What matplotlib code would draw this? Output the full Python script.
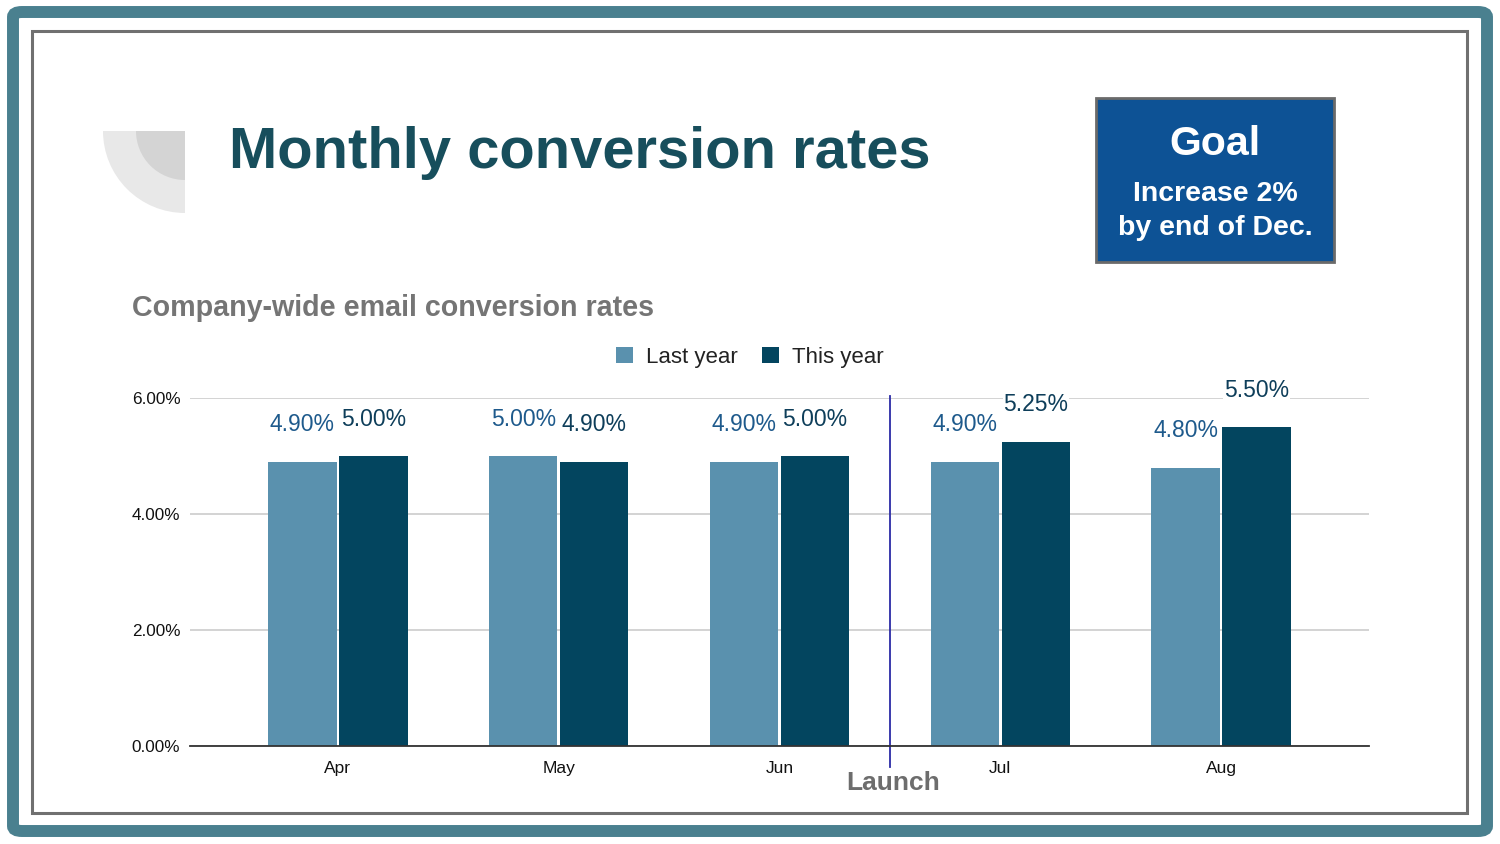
import matplotlib
matplotlib.use("Agg")
import matplotlib.pyplot as plt
import numpy as np
from matplotlib.patches import FancyBboxPatch, Rectangle, Wedge

plt.rcParams['font.family'] = ['Liberation Sans', 'DejaVu Sans']

months = ["Apr", "May", "Jun", "Jul", "Aug"]
last_year = [4.90, 5.00, 4.90, 4.90, 4.80]
this_year = [5.00, 4.90, 5.00, 5.25, 5.50]
y_ticks = [0, 2, 4, 6]
series_names = ["Last year", "This year"]
launch_pos = 2.5

W, H = 1500, 844
fig = plt.figure(figsize=(W / 100, H / 100), dpi=100)
fig.patch.set_facecolor("white")

def fx(px):
    return px / W

def fy(py):
    return 1 - py / H

# Outer teal frame
outer = FancyBboxPatch((fx(13), fy(831)), fx(1487) - fx(13), fy(12) - fy(831),
                       boxstyle="round,pad=0,rounding_size=0.006",
                       transform=fig.transFigure, facecolor="none",
                       edgecolor="#4a808f", linewidth=8.6)
fig.patches.append(outer)
inner = Rectangle((fx(31.5), fy(813)), fx(1467) - fx(31.5), fy(30.5) - fy(813),
                  transform=fig.transFigure, facecolor="none",
                  edgecolor="#707070", linewidth=2.2)
fig.patches.append(inner)

# Decoration (quarter circles)
deco = fig.add_axes([0, 0, 1, 1], zorder=0)
deco.set_xlim(0, W)
deco.set_ylim(H, 0)
deco.axis("off")
deco.add_patch(Wedge((185, 131), 82, 90, 180, facecolor="#e8e8e8", edgecolor="none"))
deco.add_patch(Wedge((185, 131), 49, 90, 180, facecolor="#d4d4d4", edgecolor="none"))
deco.set_aspect("auto")

# Title & subtitle
fig.text(fx(229), fy(168), "Monthly conversion rates", fontsize=41.7, fontweight="bold",
         color="#174e5c", ha="left", va="baseline")
fig.text(fx(132), fy(308), "Company-wide email conversion rates", fontsize=20.6,
         fontweight="bold", color="#757575", ha="left", va="center")

# Goal box
goal = Rectangle((fx(1096), fy(262)), fx(1334) - fx(1096), fy(98) - fy(262),
                 transform=fig.transFigure, facecolor="#0d5295",
                 edgecolor="#6a6a6a", linewidth=2)
fig.patches.append(goal)
fig.text(fx(1215), fy(144), "Goal", fontsize=29.5, fontweight="bold", color="white",
         ha="center", va="center")
fig.text(fx(1215), fy(194), "Increase 2%", fontsize=20.5, fontweight="bold", color="white",
         ha="center", va="center")
fig.text(fx(1215), fy(228), "by end of Dec.", fontsize=20.5, fontweight="bold", color="white",
         ha="center", va="center")

# Chart
ax = fig.add_axes([fx(190), fy(746), fx(1369) - fx(190), fy(398) - fy(746)], zorder=2)
ax.set_facecolor("none")
x = np.arange(len(months))
w = 0.31
off = 0.161
c_last, c_this = "#5a91ae", "#03455f"
b1 = ax.bar(x - off, last_year, w, color=c_last, label=series_names[0], zorder=2)
b2 = ax.bar(x + off, this_year, w, color=c_this, label=series_names[1], zorder=2)

for xi, v in zip(x, last_year):
    ax.annotate(f"{v:.2f}%", (xi - off, v), xytext=(0, 26.5), textcoords="offset points",
                ha="center", va="center", fontsize=16.5, color="#1e5a8c", zorder=4,
                annotation_clip=False,
                bbox=dict(facecolor="white", edgecolor="none", pad=0.5))
for xi, v in zip(x, this_year):
    ax.annotate(f"{v:.2f}%", (xi + off, v), xytext=(0, 26.5), textcoords="offset points",
                ha="center", va="center", fontsize=16.5, color="#0e3e5a", zorder=4,
                annotation_clip=False,
                bbox=dict(facecolor="white", edgecolor="none", pad=0.5))

ax.set_xlim(-0.67, len(months) - 1 + 0.67)
ax.set_ylim(0, 6)
ax.set_yticks(y_ticks)
ax.set_yticklabels([f"{t:.2f}%" for t in y_ticks], fontsize=12.3, color="#111111")
ax.set_xticks(x)
ax.set_xticklabels(months, fontsize=12.5, color="#111111")
ax.tick_params(axis="y", length=0, pad=7)
ax.tick_params(axis="x", length=0, pad=10.5)
ax.grid(axis="y", color="#cccccc", linewidth=1.2, zorder=0)
ax.set_axisbelow(True)
for s in ["top", "right", "left"]:
    ax.spines[s].set_visible(False)
ax.spines["bottom"].set_color("#333333")
ax.spines["bottom"].set_linewidth(1.3)
ax.spines["bottom"].set_zorder(3)

# Launch line
ax.plot([launch_pos, launch_pos], [-0.36, 6.03], color="#2b2ba6", linewidth=1.3,
        clip_on=False, zorder=3)
fig.text(fx(893), fy(783), "Launch", fontsize=19, fontweight="bold", color="#6d6d6d",
         ha="center", va="center")

leg = fig.legend(handles=[b1, b2], labels=series_names, loc="center",
                 bbox_to_anchor=(fx(750), fy(357)), ncol=2, frameon=False,
                 fontsize=16, handlelength=0.75, handleheight=0.75,
                 handletextpad=0.6, columnspacing=1.1)
for t in leg.get_texts():
    t.set_color("#222222")

fig.savefig("out.png", dpi=100, facecolor="white")
